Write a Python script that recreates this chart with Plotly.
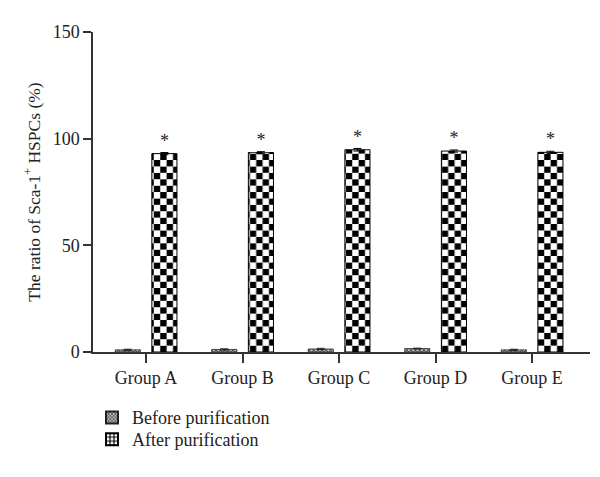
import math
import plotly.graph_objects as go

groups = ["Group A", "Group B", "Group C", "Group D", "Group E"]
before_vals = [1.0, 1.2, 1.4, 1.6, 1.0]
before_err = [0.3, 0.3, 0.3, 0.2, 0.3]
after_vals = [93.0, 93.4, 94.8, 94.2, 93.6]
after_err = [0.5, 0.5, 0.6, 0.5, 0.5]
star_labels = ["*", "*", "*", "*", "*"]

FONT = "Liberation Serif"
BAR_W = 0.26
OFF_BEFORE = -0.32
OFF_AFTER = 0.06
ROW = 3.0          # checker row height in data units
CHECK_PX = 12.8    # pattern tile size in px (two squares)

fig = go.Figure()

# Before purification bars
fig.add_trace(go.Bar(
    x=groups, y=before_vals, name="Before purification",
    width=BAR_W, offset=OFF_BEFORE,
    marker=dict(color="#bbbbbb", line=dict(color="#222222", width=0.8),
                pattern=dict(shape="x", size=3, solidity=0.4,
                             fgcolor="#222222", bgcolor="#bbbbbb", fillmode="replace")),
    error_y=dict(type="data", array=before_err, color="#222222", thickness=1, width=4),
    showlegend=True, legend="legend",
))

# After purification bars, built as checkerboard rows
n_rows = math.ceil(max(after_vals) / ROW)
for k in range(n_rows):
    seg = []
    for v in after_vals:
        h = min(ROW, v - k * ROW)
        seg.append(h if h > 0 else None)
    even = (k % 2 == 0)
    fig.add_trace(go.Bar(
        x=groups, y=seg, base=[k * ROW] * len(groups),
        width=BAR_W, offset=OFF_AFTER, showlegend=False, hoverinfo="skip",
        marker=dict(color="white", line=dict(width=0),
                    pattern=dict(shape="|", size=CHECK_PX, solidity=0.5,
                                 fgcolor="black" if even else "white",
                                 bgcolor="white" if even else "black",
                                 fillmode="replace")),
    ))

# outline, error bars and significance marks for After bars
fig.add_trace(go.Bar(
    x=groups, y=after_vals, width=BAR_W, offset=OFF_AFTER,
    marker=dict(color="rgba(0,0,0,0)", line=dict(color="black", width=1)),
    error_y=dict(type="data", array=after_err, color="black", thickness=1, width=4),
    text=star_labels, textposition="outside", cliponaxis=False,
    textfont=dict(family=FONT, size=18, color="#222222"),
    showlegend=False,
))

# legend swatch for After purification
fig.add_trace(go.Bar(
    x=[groups[0]], y=[None], name="After purification",
    marker=dict(color="white", line=dict(color="black", width=0.8),
                pattern=dict(shape="+", size=5, solidity=0.5,
                             fgcolor="black", bgcolor="white", fillmode="replace")),
    showlegend=True, legend="legend2",
))

legend_font = dict(family=FONT, size=18, color="#222222")
fig.update_layout(
    width=592, height=469,
    barmode="overlay",
    paper_bgcolor="white", plot_bgcolor="white",
    margin=dict(l=85, r=10, t=24, b=125, autoexpand=False),
    font=dict(family=FONT, size=18, color="#222222"),
    legend=dict(x=-0.002, y=-0.1475, xanchor="left", yanchor="top",
                font=legend_font, itemsizing="constant", bgcolor="rgba(0,0,0,0)"),
    legend2=dict(x=-0.002, y=-0.2155, xanchor="left", yanchor="top",
                 font=legend_font, itemsizing="constant", bgcolor="rgba(0,0,0,0)"),
    xaxis=dict(type="category", range=[-0.55, 4.6], showline=True, automargin=False,
               linecolor="#333333", linewidth=1.5, ticks="outside", ticklen=9,
               tickcolor="#333333", tickwidth=1.5, showgrid=False, zeroline=False,
               tickfont=dict(family=FONT, size=18, color="#222222")),
    yaxis=dict(range=[0, 150], tickvals=[0, 50, 100, 150], showline=True, automargin=False,
               linecolor="#333333", linewidth=1.5, ticks="outside", ticklen=8,
               tickcolor="#333333", tickwidth=1.5, showgrid=False, zeroline=False,
               tickfont=dict(family=FONT, size=18, color="#222222"),
               title=dict(text="The ratio of Sca-1<sup>+</sup> HSPCs (%)",
                          font=dict(family=FONT, size=17.5, color="#222222"),
                          standoff=8)),
)

fig.write_html("out.html")
